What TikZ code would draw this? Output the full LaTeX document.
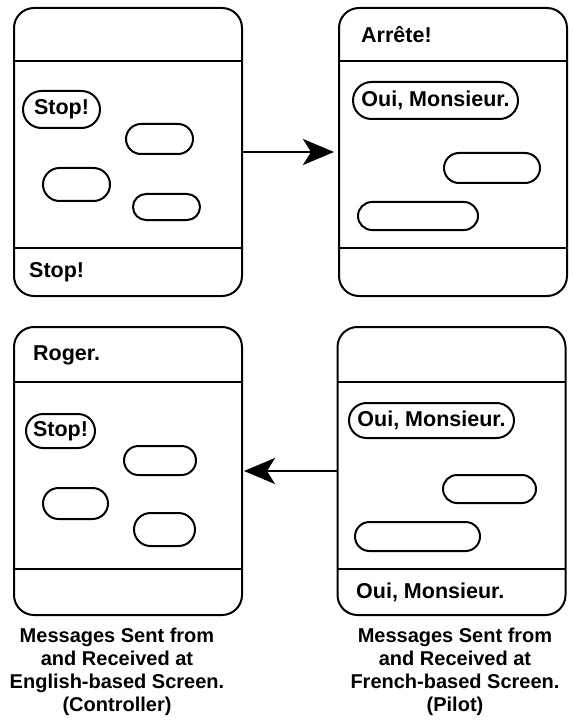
\documentclass[tikz,border=0pt]{standalone}
\usepackage{fontspec}
\setmainfont{Liberation Sans}
\usetikzlibrary{calc,arrows.meta,shapes.misc}
\tikzset{
  screen/.style={draw, line width=2pt, rounded corners=20pt, minimum width=228pt, minimum height=288pt, outer sep=0pt, inner sep=0pt},
  bubble/.style={draw, rounded rectangle, line width=2pt, inner sep=0pt, font=\fontsize{21.5}{24}\selectfont\bfseries},
  txt/.style={anchor=west, inner sep=0pt, font=\fontsize{21.5}{24}\selectfont\bfseries},
  capt/.style={align=center, inner sep=0pt, font=\fontsize{20}{23}\selectfont\bfseries},
  flow/.style={-{Stealth[length=31pt, width=26pt, inset=8pt]}, line width=2.5pt}
}

\begin{document}
\begin{tikzpicture}[x=1pt, y=-1pt]
		\useasboundingbox (0, 0) rectangle (573, 727);
		
		%%%%% English screen, top %%%%%
		\node[screen] (engA) at (128, 152) {};
		\draw[line width=2pt] ($(engA.north west)+(0, 53)$) -- ($(engA.north east)+(0, 53)$);
		\draw[line width=2pt] ($(engA.south west)+(0, -48)$) -- ($(engA.south east)+(0, -48)$);
		
		\node[bubble, minimum width=77pt, minimum height=37pt] (engAstop) at (61.5, 109.5) {Stop!};
		\node[bubble, minimum width=67pt, minimum height=30pt] (engAb) at (159.5, 139) {};
		\node[bubble, minimum width=67pt, minimum height=33pt] (engAc) at (76.5, 184.5) {};
		\node[bubble, minimum width=67pt, minimum height=26pt] (engAd) at (166.5, 207) {};
		\node[txt] (engAfoot) at (29, 272) {Stop!};
		
		%%%%% French screen, top %%%%%
		\node[screen] (freA) at (453, 152) {};
		\draw[line width=2pt] ($(freA.north west)+(0, 53)$) -- ($(freA.north east)+(0, 53)$);
		\draw[line width=2pt] ($(freA.south west)+(0, -48)$) -- ($(freA.south east)+(0, -48)$);
		
		\node[txt] (freAhead) at (361, 35) {Arrête!};
		\node[bubble, minimum width=165pt, minimum height=37pt] (freAoui) at (435.5, 100.5) {Oui, Monsieur.};
		\node[bubble, minimum width=96pt, minimum height=30pt] (freAb) at (492, 168) {};
		\node[bubble, minimum width=120pt, minimum height=28pt] (freAc) at (418, 216) {};
		
		\draw[flow, shorten >=5pt] (engA) -- (freA);
		
		%%%%% English screen, bottom %%%%%
		\node[screen] (engB) at (128, 471) {};
		\draw[line width=2pt] ($(engB.north west)+(0, 55)$) -- ($(engB.north east)+(0, 55)$);
		\draw[line width=2pt] ($(engB.south west)+(0, -46)$) -- ($(engB.south east)+(0, -46)$);
		
		\node[txt] (engBhead) at (33, 355) {Roger.};
		\node[bubble, minimum width=69pt, minimum height=34pt] (engBstop) at (60.5, 431) {Stop!};
		\node[bubble, minimum width=72pt, minimum height=29pt] (engBb) at (160, 460.5) {};
		\node[bubble, minimum width=65pt, minimum height=31pt] (engBc) at (75.5, 503.5) {};
		\node[bubble, minimum width=61pt, minimum height=33pt] (engBd) at (164.5, 529.5) {};
		
		%%%%% French screen, bottom %%%%%
		\node[screen] (freB) at (451.5, 471) {};
		\draw[line width=2pt] ($(freB.north west)+(0, 55)$) -- ($(freB.north east)+(0, 55)$);
		\draw[line width=2pt] ($(freB.south west)+(0, -46)$) -- ($(freB.south east)+(0, -46)$);
		
		\node[bubble, minimum width=165pt, minimum height=35pt] (freBoui) at (431.5, 420.5) {Oui, Monsieur.};
		\node[bubble, minimum width=93pt, minimum height=28pt] (freBb) at (489.5, 489) {};
		\node[bubble, minimum width=125pt, minimum height=29pt] (freBc) at (417.5, 536.5) {};
		\node[txt] (freBfoot) at (356, 592) {Oui, Monsieur.};
		
		\draw[flow, shorten >=2pt] (freB) -- (engB);
		
		%%%%% captions %%%%%
		\node[capt] (engcap) at (117, 672) {Messages Sent from\\and Received at\\English-based Screen.\\(Controller)};
		\node[capt] (frecap) at (455, 672) {Messages Sent from\\and Received at\\French-based Screen.\\(Pilot)};
	\end{tikzpicture}
\end{document}
